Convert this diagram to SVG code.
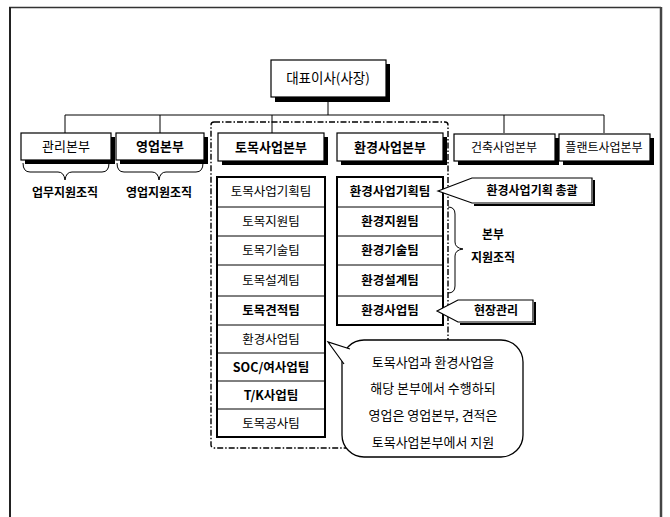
<svg xmlns="http://www.w3.org/2000/svg" width="670" height="517" viewBox="0 0 670 517">
<style>
text{font-family:"Noto Sans CJK KR","Noto Sans",sans-serif;font-size:12px;fill:#000;text-anchor:middle}
.b{font-weight:bold}
.t{font-size:12.5px}
.bb{font-size:13px}
.box{fill:#fff;stroke:#000;stroke-width:1.2}
.sh{fill:#000}
.ln{fill:none;stroke:#000;stroke-width:1}
.col{fill:#fff;stroke:#000;stroke-width:2}
.dd{fill:none;stroke:#000;stroke-width:1.4;stroke-dasharray:6 2 1.5 2}
</style>
<rect width="670" height="517" fill="#fff"/>
<g id="frame">
<path d="M9,7.5 H661" stroke="#333" stroke-width="1.5" fill="none"/>
<path d="M10,7 V517" stroke="#222" stroke-width="2" fill="none"/>
<path d="M661,7 V517" stroke="#444" stroke-width="2.5" fill="none"/>
</g>
<g id="group-frame">
<rect class="dd" x="211" y="122" width="237" height="326" rx="3"/>
</g>
<g id="connectors">
<path class="ln" d="M328,97 V115 M65,115 H604 M65,115 V133 M160,115 V133 M272,115 V133 M504,115 V133 M604,115 V133"/>
</g>
<g id="ceo">
<rect class="sh" x="275" y="64" width="115" height="38"/>
<rect class="box" x="271" y="60" width="115" height="37"/>
<text x="328" y="83" style="font-size:13.5px">대표이사(사장)</text>
</g>
<g id="mgmt">
<rect class="sh" x="25" y="137" width="90" height="27"/>
<rect class="box" x="21" y="133" width="90" height="27"/>
<text x="66" y="151" style="font-size:13px">관리본부</text>
</g>
<g id="sales">
<rect class="sh" x="120" y="137" width="88" height="27"/>
<rect class="box" x="116" y="133" width="88" height="27"/>
<text class="b" x="160" y="151" style="font-size:13px">영업본부</text>
</g>
<g id="civil">
<rect class="sh" x="222" y="137" width="106" height="28"/>
<rect class="box" x="218" y="133" width="106" height="28"/>
<text class="b" x="271" y="152" style="font-size:13px">토목사업본부</text>
</g>
<g id="env">
<rect class="sh" x="341" y="137" width="106" height="28"/>
<rect class="box" x="337" y="133" width="106" height="28"/>
<text class="b" x="390" y="152" style="font-size:13px">환경사업본부</text>
</g>
<g id="arch">
<rect class="sh" x="458" y="138" width="101" height="27"/>
<rect class="box" x="454" y="134" width="101" height="27"/>
<text x="504" y="152">건축사업본부</text>
</g>
<g id="plant">
<rect class="sh" x="563" y="138" width="91" height="27"/>
<rect class="box" x="559" y="134" width="91" height="27"/>
<text x="604" y="152">플랜트사업본부</text>
</g>
<g id="brace-left">
<path class="ln" d="M23,163 Q23,172 30,172 H58 Q64,172 65,180 Q66,172 72,172 H102 Q109,172 109,163"/>
<text class="b" x="65" y="197">업무지원조직</text>
<path class="ln" d="M117,163 Q117,172 124,172 H152 Q158,172 159,180 Q160,172 166,172 H196 Q203,172 203,163"/>
<text class="b" x="159" y="197">영업지원조직</text>
</g>
<g id="civil-teams">
<rect class="col" x="217" y="177" width="108" height="260"/>
<path class="ln" d="M217,207 H325 M217,236 H325 M217,265 H325 M217,296 H325 M217,325 H325 M217,353 H325 M217,381 H325 M217,409 H325"/>
<text class="t" x="271" y="196">토목사업기획팀</text>
<text class="t" x="271" y="226">토목지원팀</text>
<text class="t" x="271" y="255">토목기술팀</text>
<text class="t" x="271" y="285">토목설계팀</text>
<text class="t b" x="271" y="315">토목견적팀</text>
<text class="t" x="271" y="344">환경사업팀</text>
<text class="t b" x="271" y="372">SOC/여사업팀</text>
<text class="t b" x="271" y="400">T/K사업팀</text>
<text class="t" x="271" y="428">토목공사팀</text>
</g>
<g id="env-teams">
<rect class="col" x="337" y="177" width="106" height="148"/>
<path class="ln" d="M337,207 H443 M337,236 H443 M337,265 H443 M337,296 H443"/>
<text class="t b" x="390" y="196">환경사업기획팀</text>
<text class="t b" x="390" y="226">환경지원팀</text>
<text class="t b" x="390" y="255">환경기술팀</text>
<text class="t b" x="390" y="285">환경설계팀</text>
<text class="t b" x="390" y="315">환경사업팀</text>
</g>
<g id="callout-plan">
<path d="M474,205 H594 V180" fill="none" stroke="#000" stroke-width="2"/>
<polygon class="box" points="438,191 472,178 592,178 592,203 472,203"/>
<text class="b" x="532" y="195">환경사업기획 총괄</text>
</g>
<g id="brace-right">
<path class="ln" d="M448,207 Q455,207 455,214 V242 Q455,248 463,249 Q455,250 455,256 V286 Q455,293 448,293"/>
<text class="b" x="493" y="239">본부</text>
<text class="b" x="493" y="262">지원조직</text>
</g>
<g id="callout-site">
<path d="M460,324 H535 V302" fill="none" stroke="#000" stroke-width="2"/>
<polygon class="box" points="437,311 458,300 533,300 533,322 458,322"/>
<text class="b" x="496" y="315">현장관리</text>
</g>
<g id="bubble">
<rect x="342" y="340" width="181" height="117" rx="22" fill="#fff" stroke="#000" stroke-width="1.3"/>
<path d="M350,349 L328,342 L344,364" fill="#fff" stroke="#000" stroke-width="1.2"/>
<text class="bb" x="433" y="367">토목사업과 환경사업을</text>
<text class="bb" x="433" y="393">해당 본부에서 수행하되</text>
<text class="bb" x="433" y="420">영업은 영업본부, 견적은</text>
<text class="bb" x="433" y="447">토목사업본부에서 지원</text>
</g>
</svg>
